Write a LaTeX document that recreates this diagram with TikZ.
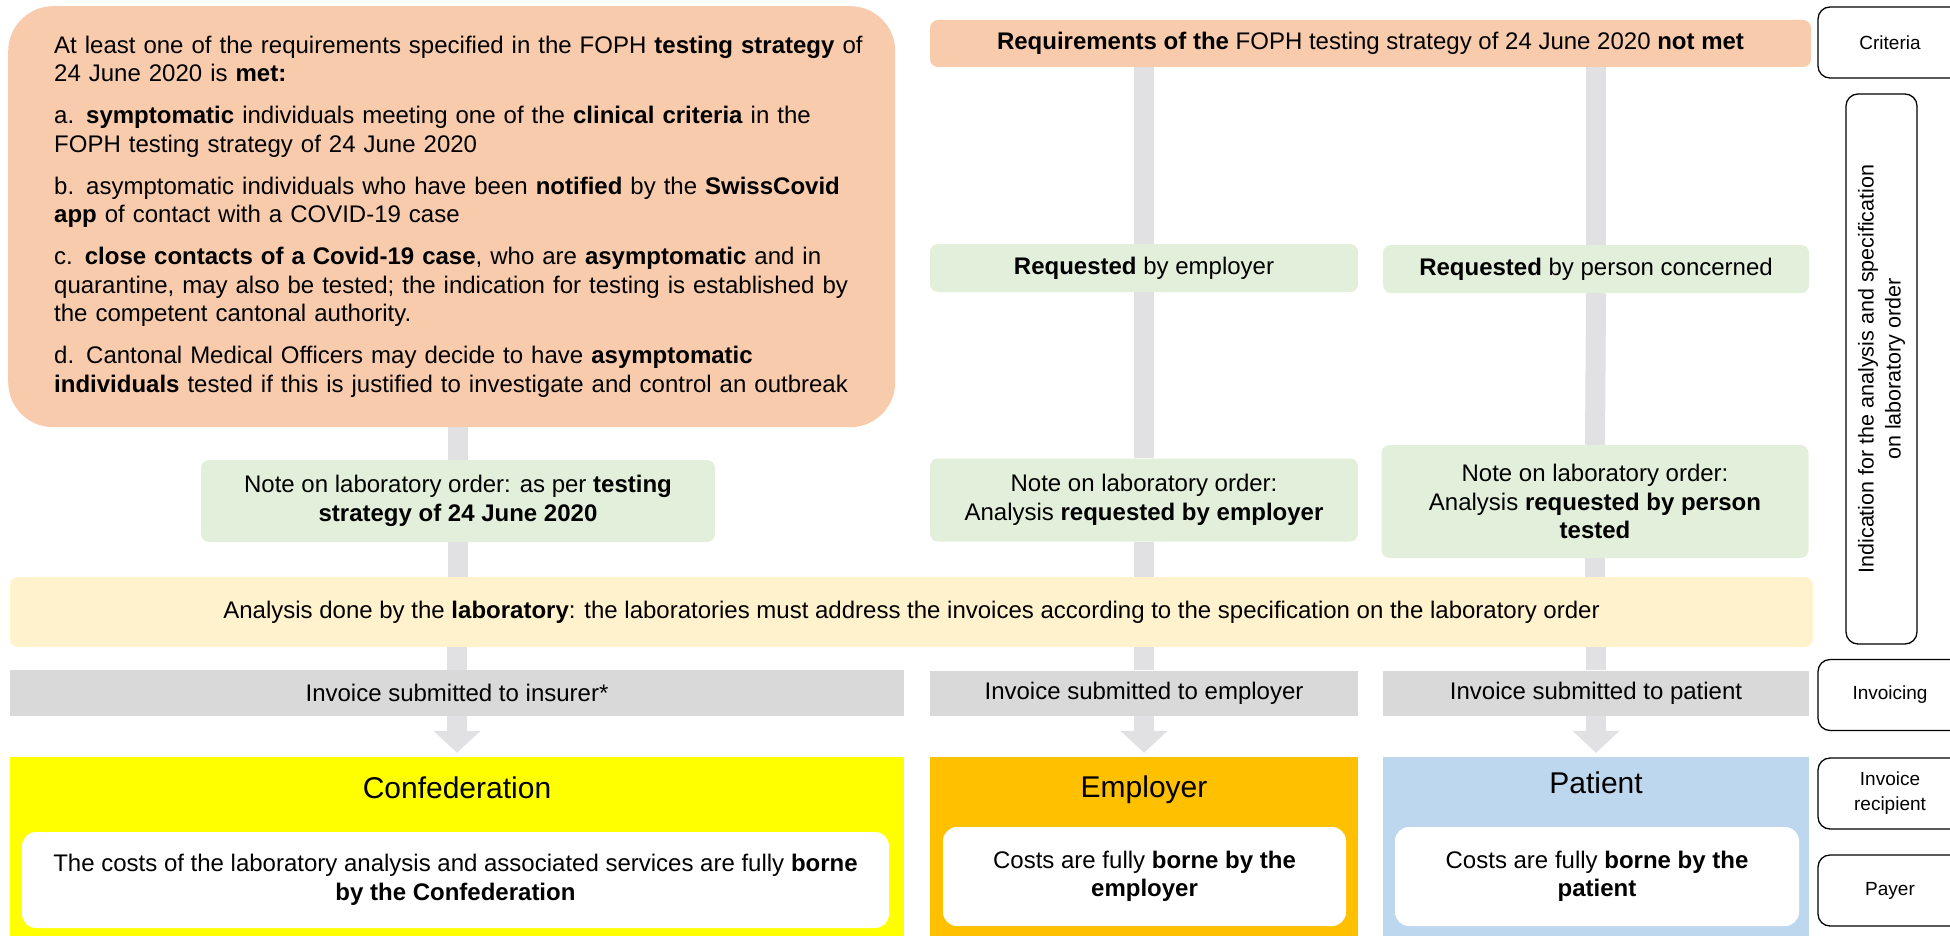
\documentclass[tikz,border=0pt]{standalone}
\usepackage{fontspec}
\setmainfont{Liberation Sans}
\usetikzlibrary{arrows.meta}
\definecolor{peach}{HTML}{F8CBAD}
\definecolor{mint}{HTML}{E2EFDA}
\definecolor{cream}{HTML}{FFF2CC}
\definecolor{bargray}{HTML}{D9D9D9}
\definecolor{linkgray}{HTML}{E1E1E4}
\definecolor{confyellow}{HTML}{FFFF00}
\definecolor{empamber}{HTML}{FFC000}
\definecolor{patblue}{HTML}{BDD7EE}
\begin{document}
\begin{tikzpicture}[x=1pt, y=-1pt, line join=round,
	font=\fontsize{24}{28.5}\selectfont,
	box/.style={rounded corners=8pt, inner sep=0pt, align=center},
	bar/.style={fill=bargray, inner sep=0pt, align=center},
	payer/.style={inner sep=0pt, minimum height=179pt},
	title/.style={font=\fontsize{30}{34}\selectfont},
	cost/.style={fill=white, rounded corners=14pt, inner sep=0pt, align=center},
	link/.style={draw=linkgray, line width=20pt},
	tag/.style={draw, line width=1.3pt, rounded corners=12pt, fill=white, inner sep=0pt, align=center,
		minimum width=144pt, minimum height=71pt, font=\fontsize{19}{25}\selectfont}]
	%Khung hình.
	\useasboundingbox (0,0) rectangle (1950,936);
	\clip (0,0) rectangle (1950,936);
	%Tiêu chí.
	\node[box, fill=peach, rounded corners=45pt, anchor=north west, text width=795pt, inner xsep=46pt,
		minimum height=421pt, align=left] (met) at (8,6)
		{\mbox{At least one of the requirements specified in the FOPH \textbf{testing strategy} of}\\
		24 June 2020 is \textbf{met:}\\[13.5pt]
		a. \textbf{symptomatic} individuals meeting one of the \textbf{clinical criteria} in the\\
		FOPH testing strategy of 24 June 2020\\[13.5pt]
		b. asymptomatic individuals who have been \textbf{notified} by the \textbf{SwissCovid}\\
		\textbf{app} of contact with a COVID-19 case\\[13.5pt]
		c. \textbf{close contacts of a Covid-19 case}, who are \textbf{asymptomatic} and in\\
		quarantine, may also be tested; the indication for testing is established by\\
		the competent cantonal authority.\\[13.5pt]
		d. Cantonal Medical Officers may decide to have \textbf{asymptomatic}\\
		\mbox{\textbf{individuals} tested if this is justified to investigate and control an outbreak}};
	\node[box, fill=peach, minimum width=881pt, minimum height=47pt] (notmet) at (1370.5,43.5)
		{\textbf{Requirements of the} FOPH testing strategy of 24 June 2020 \textbf{not met}};
	%Chỉ định.
	\node[box, fill=mint, minimum width=428pt, minimum height=48pt] (reqemp) at (1144,268) {\textbf{Requested} by employer};
	\node[box, fill=mint, minimum width=426pt, minimum height=48pt] (reqper) at (1596,269) {\textbf{Requested} by person concerned};
	\node[box, fill=mint, minimum width=514pt, minimum height=82pt] (note1) at (458,501)
		{Note on laboratory order: as per \textbf{testing}\\\textbf{strategy of 24 June 2020}};
	\node[box, fill=mint, minimum width=428pt, minimum height=83pt] (note2) at (1144,500)
		{Note on laboratory order:\\Analysis \textbf{requested by employer}};
	\node[box, fill=mint, minimum width=427pt, minimum height=113pt] (note3) at (1595,501.5)
		{Note on laboratory order:\\Analysis \textbf{requested by person}\\\textbf{tested}};
	\node[box, fill=cream, minimum width=1803pt, minimum height=70pt] (lab) at (911.5,612)
		{Analysis done by the \textbf{laboratory}: the laboratories must address the invoices according to the specification on the laboratory order};
	%Hóa đơn.
	\node[bar, minimum width=894pt, minimum height=46pt] (inv1) at (457,693) {Invoice submitted to insurer*};
	\node[bar, minimum width=428pt, minimum height=45pt] (inv2) at (1144,693) {Invoice submitted to employer};
	\node[bar, minimum width=426pt, minimum height=45pt] (inv3) at (1596,693) {Invoice submitted to patient};
	%Người trả.
	\node[payer, fill=confyellow, minimum width=894pt] (conf) at (457,846.5) {};
	\node[payer, fill=empamber, minimum width=428pt] (emp) at (1144,846.5) {};
	\node[payer, fill=patblue, minimum width=426pt] (pat) at (1596,846.5) {};
	\node[title] (conft) at (457,788) {Confederation};
	\node[title] (empt) at (1144,790) {Employer};
	\node[title] (patt) at (1596,783) {Patient};
	\node[cost, minimum width=867pt, minimum height=96pt] (confc) at (455.5,880)
		{The costs of the laboratory analysis and associated services are fully \textbf{borne}\\\textbf{by the Confederation}};
	\node[cost, minimum width=403pt, minimum height=99pt] (empc) at (1144.5,876.5)
		{Costs are fully \textbf{borne by the}\\\textbf{employer}};
	\node[cost, minimum width=404pt, minimum height=99pt] (patc) at (1597,876.5)
		{Costs are fully \textbf{borne by the}\\\textbf{patient}};
	%Nhãn bên phải.
	\foreach \name/\ypos/\txt in {crit/42.5/Criteria, invo/695/Invoicing, recp/793.5/{Invoice\\recipient}, pay/890.5/Payer}
		\node[tag] (\name) at (1890,\ypos) {\txt};
	\node[tag, minimum width=550pt, rotate=90, font=\fontsize{21.5}{27}\selectfont] (spec) at (1881.5,369)
		{Indication for the analysis and specification\\on laboratory order};
	%Mũi tên.
	\draw[link] (met.south -| note1.north) -- (note1.north);
	\draw[link] (notmet.south -| reqemp.north) -- (reqemp.north);
	\draw[link] (notmet.south -| reqper.north) -- (reqper.north);
	\foreach \up/\down in {reqemp/note2, reqper/note3}
		\draw[link] (\up.south) -- (\down.north);
	\foreach \up in {note1, note2, note3}
		\draw[link] (\up.south) -- (lab.north -| \up.south);
	\foreach \down in {inv1, inv2, inv3}
		\draw[link] (lab.south -| \down.north) -- (\down.north);
	\foreach \up/\down in {inv1/conf, inv2/emp, inv3/pat}
		\draw[link, -{Triangle[width=46pt, length=22pt]}] (\up.south) -- ([yshift=4pt]\down.north);
\end{tikzpicture}
\end{document}
